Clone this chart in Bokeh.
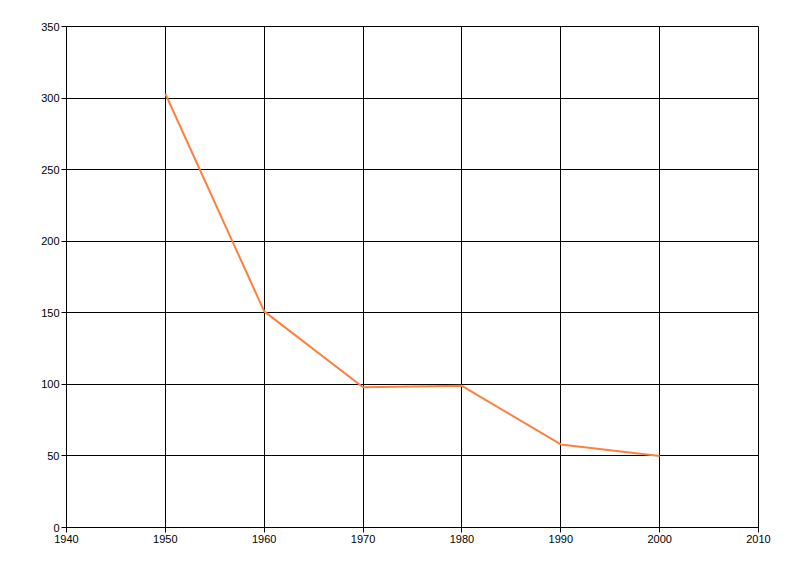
from bokeh.plotting import figure
from bokeh.models import FixedTicker, Range1d
from bokeh.embed import file_html
from bokeh.resources import INLINE

years = [1950, 1960, 1970, 1980, 1990, 2000]
values = [303, 151, 98, 99, 58, 50]
x_ticks = [1940, 1950, 1960, 1970, 1980, 1990, 2000, 2010]
y_ticks = [0, 50, 100, 150, 200, 250, 300, 350]

p = figure(frame_width=692, frame_height=501, output_backend="svg", toolbar_location=None,
           x_range=Range1d(1940, 2010), y_range=Range1d(0, 350),
           min_border_left=66, min_border_right=34, min_border_top=26, min_border_bottom=41)
p.background_fill_color = "white"
p.border_fill_color = "white"
p.outline_line_color = "black"
p.outline_line_width = 1

p.line(years, values, line_color="#FF7F3F", line_width=2)

for ax, ticks in ((p.xaxis, x_ticks), (p.yaxis, y_ticks)):
    ax.ticker = FixedTicker(ticks=ticks)
    ax.major_tick_out = 5
    ax.major_tick_in = 0
    ax.minor_tick_line_color = None
    ax.axis_line_color = "black"
    ax.major_tick_line_color = "black"
    ax.major_label_text_font = "Liberation Sans"
    ax.major_label_text_font_size = "11px"
    ax.major_label_text_color = "black"
    ax.major_label_standoff = 2

for g, ticks in ((p.xgrid, x_ticks), (p.ygrid, y_ticks)):
    g.ticker = FixedTicker(ticks=ticks)
    g.grid_line_color = "black"
    g.grid_line_alpha = 1.0
    g.grid_line_width = 1

open("out.html", "w").write(file_html(p, INLINE))
